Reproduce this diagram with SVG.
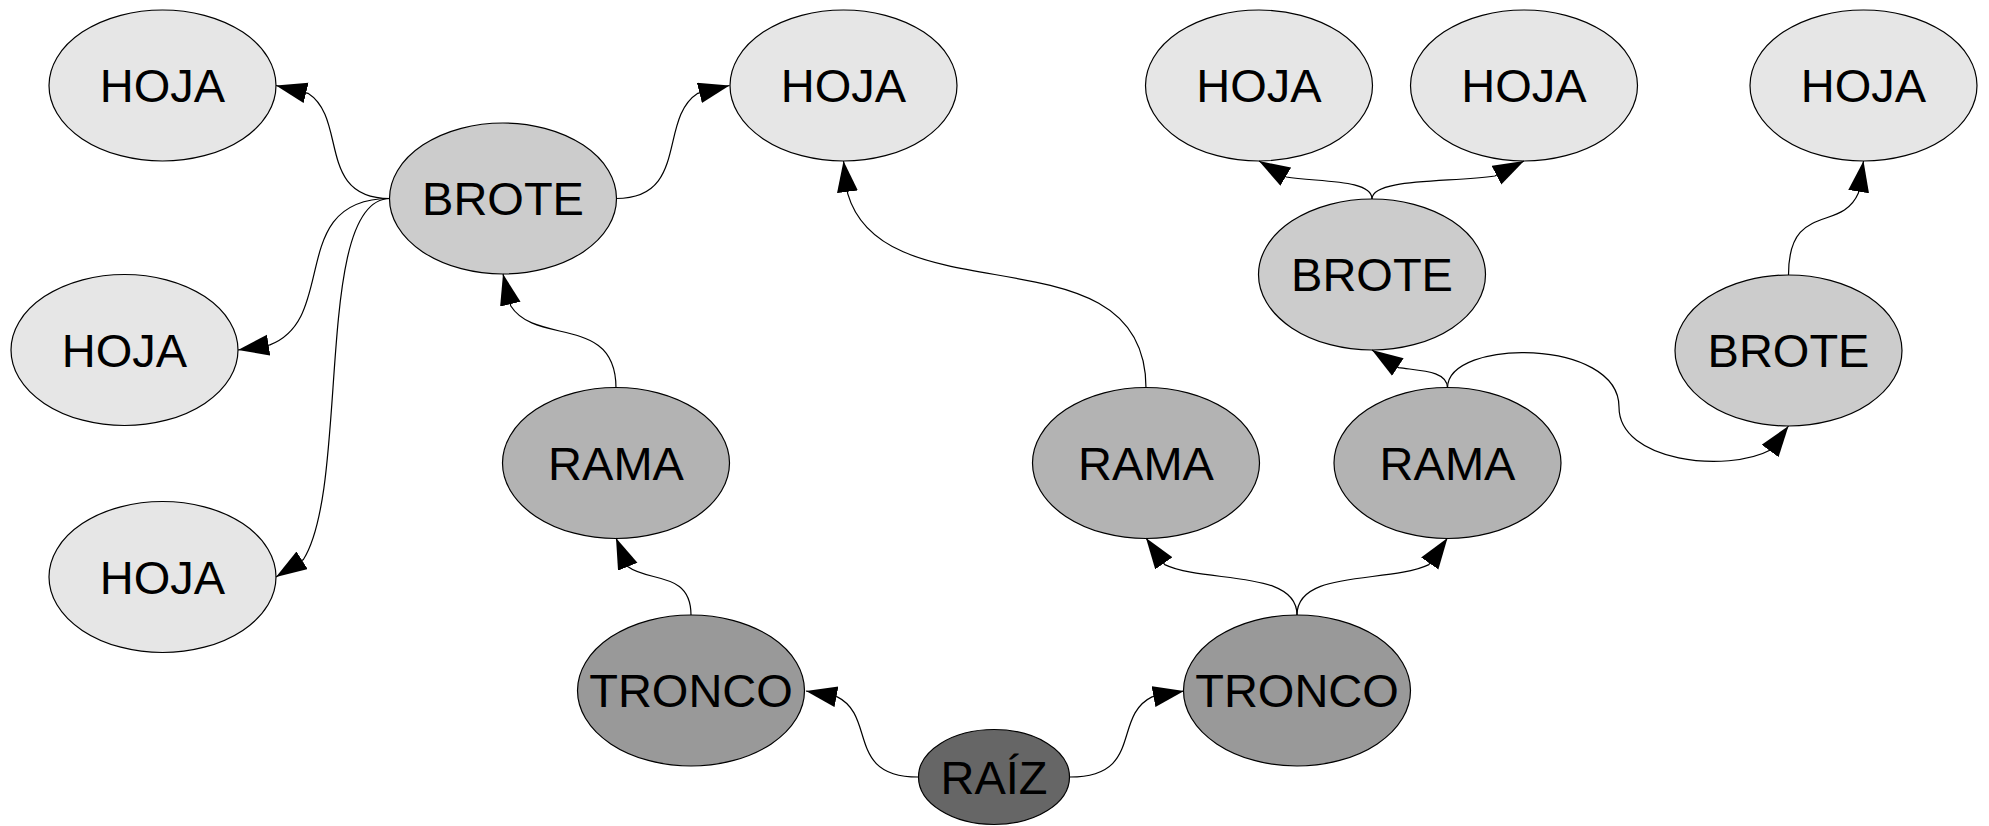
<svg xmlns="http://www.w3.org/2000/svg" width="1989" height="826" viewBox="0 0 1989 826">
  <style>
    .node ellipse { stroke: #000; stroke-width: 1.2; }
    .node text { font-family: "Liberation Sans", Arial, sans-serif; font-size: 47px; fill: #000; text-anchor: middle; }
    .hoja ellipse { fill: #e6e6e6; }
    .brote ellipse { fill: #cccccc; }
    .rama ellipse { fill: #b3b3b3; }
    .tronco ellipse { fill: #999999; }
    .raiz ellipse { fill: #666666; }
    #connectors path { fill: none; stroke: #000; stroke-width: 1.2; marker-end: url(#arrow); }
  </style>
  <defs>
    <marker id="arrow" markerUnits="userSpaceOnUse" viewBox="0 0 32 22" markerWidth="32" markerHeight="22" refX="31" refY="10.5" orient="auto">
      <path d="M0,0 L31,10.5 L0,21 z" fill="#000"/>
    </marker>
  </defs>
  <rect width="1989" height="826" fill="#fff"/>

  <!-- nodes -->
  <g id="hoja-1" class="node hoja"><ellipse cx="162.5" cy="85.5" rx="113.5" ry="75.5"/><text x="162.5" y="102">HOJA</text></g>
  <g id="hoja-2" class="node hoja"><ellipse cx="124.5" cy="350" rx="113.5" ry="75.5"/><text x="124.5" y="366.5">HOJA</text></g>
  <g id="hoja-3" class="node hoja"><ellipse cx="162.5" cy="577" rx="113.5" ry="75.5"/><text x="162.5" y="593.5">HOJA</text></g>
  <g id="hoja-4" class="node hoja"><ellipse cx="843.5" cy="85.5" rx="113.5" ry="75.5"/><text x="843.5" y="102">HOJA</text></g>
  <g id="hoja-5" class="node hoja"><ellipse cx="1259" cy="85.5" rx="113.5" ry="75.5"/><text x="1259" y="102">HOJA</text></g>
  <g id="hoja-6" class="node hoja"><ellipse cx="1524" cy="85.5" rx="113.5" ry="75.5"/><text x="1524" y="102">HOJA</text></g>
  <g id="hoja-7" class="node hoja"><ellipse cx="1863.5" cy="85.5" rx="113.5" ry="75.5"/><text x="1863.5" y="102">HOJA</text></g>

  <g id="brote-1" class="node brote"><ellipse cx="503" cy="198.5" rx="113.5" ry="75.5"/><text x="503" y="215">BROTE</text></g>
  <g id="brote-2" class="node brote"><ellipse cx="1372" cy="274.5" rx="113.5" ry="75.5"/><text x="1372" y="291">BROTE</text></g>
  <g id="brote-3" class="node brote"><ellipse cx="1788.5" cy="350.5" rx="113.5" ry="75.5"/><text x="1788.5" y="367">BROTE</text></g>

  <g id="rama-1" class="node rama"><ellipse cx="616" cy="463" rx="113.5" ry="75.5"/><text x="616" y="479.5">RAMA</text></g>
  <g id="rama-2" class="node rama"><ellipse cx="1146" cy="463" rx="113.5" ry="75.5"/><text x="1146" y="479.5">RAMA</text></g>
  <g id="rama-3" class="node rama"><ellipse cx="1447.5" cy="463" rx="113.5" ry="75.5"/><text x="1447.5" y="479.5">RAMA</text></g>

  <g id="tronco-1" class="node tronco"><ellipse cx="691" cy="690.5" rx="113.5" ry="75.5"/><text x="691" y="707">TRONCO</text></g>
  <g id="tronco-2" class="node tronco"><ellipse cx="1297" cy="690.5" rx="113.5" ry="75.5"/><text x="1297" y="707">TRONCO</text></g>

  <g id="raiz" class="node raiz"><ellipse cx="994" cy="777" rx="75.5" ry="47.5"/><text x="994" y="793.5">RAÍZ</text></g>

  <!-- connectors: curved links, each ending in a short segment toward the glue point so the arrowhead follows it -->
  <g id="connectors">
    <path d="M918,777 C845.8,777 876.5,716.3 837.3,696.9 L806,691"/>
    <path d="M1070,777 C1143.9,777 1112,716.3 1152,696.9 L1184,691"/>
    <path d="M691,615 C691,570.8 648.8,582.8 627.7,566.6 L616,538"/>
    <path d="M616,388 C616,314.1 536.3,346 510.8,306 L503,274"/>
    <path d="M390,198.5 C316.1,198.5 348,118.8 308,93.3 L276,85.5"/>
    <path d="M390,198.5 C285.9,198.5 339.4,318.5 269.9,344.9 L238,350"/>
    <path d="M390,198.5 C313.4,198.5 350.4,485 303.4,559.5 L276,577"/>
    <path d="M616,198.5 C689.4,198.5 657.9,118.8 697.8,93.3 L729.5,85.5"/>
    <path d="M1146,388 C1146,225.3 884.4,320.2 847.7,193.6 L843.5,161"/>
    <path d="M1297,615 C1297,569 1205.1,583.8 1164.7,564.6 L1146,538"/>
    <path d="M1297,615 C1297,569 1388.6,583.8 1428.9,564.6 L1447.5,538"/>
    <path d="M1447.5,388 C1447.5,370.6 1420.3,370.8 1398.6,367.6 L1372,350"/>
    <path d="M1447.5,388 C1447.5,338 1619,338 1619,407 C1619,462.2 1727.5,473.2 1770.9,449.8 L1788.5,426"/>
    <path d="M1372,199 C1372,179.3 1319.8,182.2 1286.3,177 L1259,161"/>
    <path d="M1372,199 C1372,178.1 1450.8,182.6 1494.9,176 L1524,161"/>
    <path d="M1788.5,275 C1788.5,201.1 1841.4,233 1858.4,193 L1863.5,161"/>
  </g>
</svg>
